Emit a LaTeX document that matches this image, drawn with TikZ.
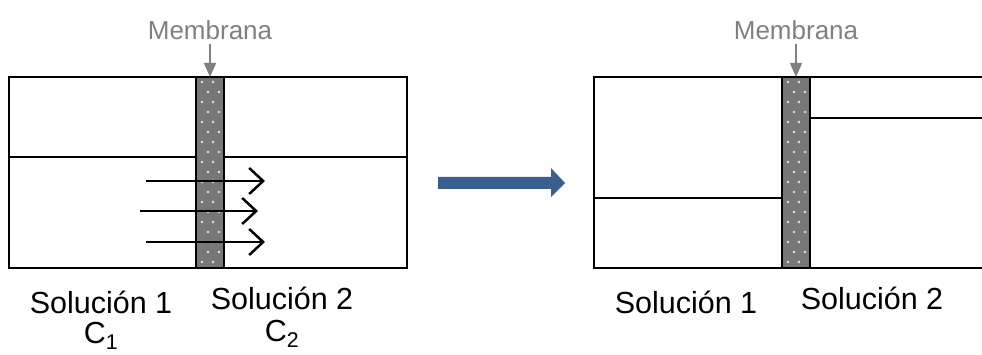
\documentclass[tikz,border=0pt]{standalone}
\usepackage{fontspec}
\setmainfont{Liberation Sans}
\usetikzlibrary{arrows.meta}
\definecolor{memgray}{HTML}{777777}
\definecolor{labgray}{HTML}{808080}
\definecolor{bigblue}{HTML}{3A5F8E}
\tikzset{
  wall/.style={line width=2pt, black},
  level/.style={line width=1.5pt, black},
  flow/.style={line width=2.5pt, black, -{Straight Barb[length=14pt,width=26pt,line width=2.5pt]}},
  memlabel/.style={text=labgray, font=\fontsize{26}{28}\selectfont, inner sep=0pt},
  sol/.style={font=\fontsize{30.5}{32}\selectfont, inner sep=0pt},
  pointer/.style={line width=1.5pt, labgray, -{Triangle[length=14pt,width=12pt]}},
}
\newcommand{\membrane}[2]{% x-left, name
  \fill[memgray] (#1,77) rectangle ++(28,191);
  \foreach \j in {0,...,18} {
    \pgfmathsetmacro{\yy}{82+\j*10}
    \pgfmathsetmacro{\xo}{mod(\j,2)==0 ? 6 : 12}
    \fill[white!80!gray] (#1+\xo,\yy) circle (1.4pt);
    \fill[white!80!gray] (#1+\xo+11,\yy) circle (1.4pt);
  }
  \draw[wall] (#1,77) rectangle ++(28,191);
  \coordinate (#2) at (#1+14,77);
}
\begin{document}
\begin{tikzpicture}[x=1pt,y=-1pt]
\useasboundingbox (0,0) rectangle (982,355);
% left tank
\draw[wall] (9,77) rectangle (407,268);
\draw[level] (9,157) -- (407,157);
% arrows
\coordinate (a1s) at (146,181); \coordinate (a1e) at (265,181);
\coordinate (a2s) at (140,211); \coordinate (a2e) at (258,211);
\coordinate (a3s) at (146,242); \coordinate (a3e) at (265,242);
\membrane{196}{memL}
\draw[flow] (a1s) -- (a1e);
\draw[flow] (a2s) -- (a2e);
\draw[flow] (a3s) -- (a3e);
% right tank
\draw[wall] (982,77) -- (594,77) -- (594,268) -- (982,268);
\draw[level] (594,198) -- (782,198);
\draw[level] (810,118) -- (982,118);
\membrane{782}{memR}
% labels
\node[memlabel] (mL) at (210,30) {Membrana};
\node[memlabel] (mR) at (796,30) {Membrana};
\draw[pointer] (210,44) -- (memL);
\draw[pointer] (796,44) -- (memR);
% big arrow
\fill[bigblue] (438,177) -- (551,177) -- (551,168) -- (565,183) -- (551,197) -- (551,189) -- (438,189) -- cycle;
% solution labels
\node[sol] (s1) at (101,302) {Solución 1};
\node[sol] (c1) at (101,336) {C\textsubscript{1}};
\node[sol] (s2) at (282,298) {Solución 2};
\node[sol] (c2) at (282,334) {C\textsubscript{2}};
\node[sol] (s3) at (686,302) {Solución 1};
\node[sol] (s4) at (872,298) {Solución 2};
\end{tikzpicture}
\end{document}
